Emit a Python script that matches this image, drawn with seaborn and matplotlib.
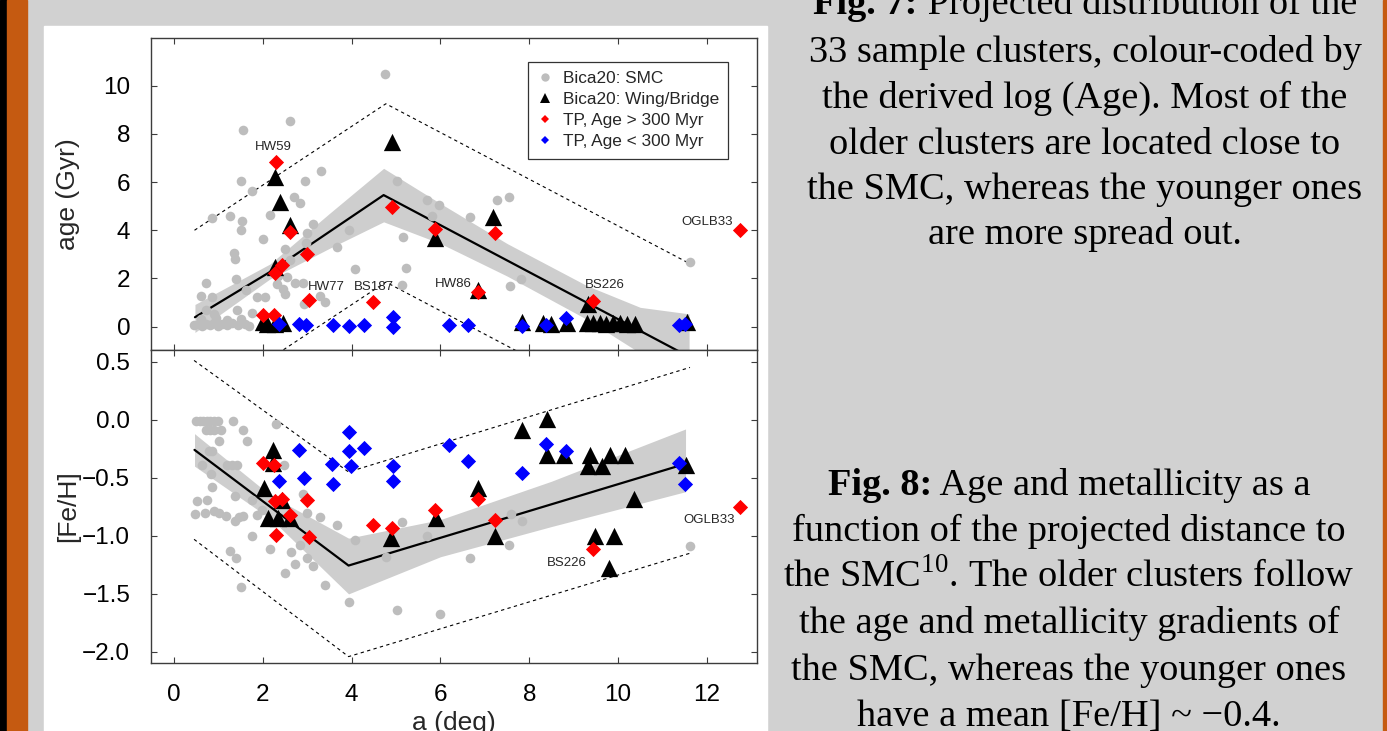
"""
Age and [Fe/H] versus projected distance a (deg) - poster panel recreation.
"""

# =============== IMPORTS ===============
import matplotlib
matplotlib.use("Agg")
import matplotlib.pyplot as plt
from matplotlib.lines import Line2D
from matplotlib.patches import Rectangle
import seaborn as sns


# =============== DATA ===============
# Bica20: SMC clusters (grey circles)
smc_top_a = [4.75, 2.61, 1.55, 3.30, 1.50, 2.94, 1.75, 5.02, 2.71, 2.84, 5.69, 5.97,
             0.86, 1.26, 1.52, 2.15, 1.50, 3.12, 3.00, 3.93, 5.82, 2.00, 2.97, 3.66,
             5.15, 1.35, 1.37, 2.50, 2.61, 4.08, 5.22, 1.40, 0.72, 1.62, 2.54, 2.72,
             2.91, 2.31, 2.46, 5.13, 0.60, 0.85, 1.86, 2.05, 3.29, 1.41, 1.75, 2.93,
             3.40, 0.72, 0.89, 1.19, 2.35, 2.50, 6.67, 7.28, 7.55, 7.82, 7.57, 11.62,
             0.45, 0.55, 0.63, 0.72, 0.80, 0.90, 0.98, 1.08, 1.20, 1.30, 1.45, 1.60,
             1.68, 0.60, 0.95, 1.50]
smc_top_age = [10.50, 8.55, 8.17, 6.47, 6.05, 6.04, 5.63, 6.04, 5.39, 5.14, 5.25, 5.04,
               4.49, 4.58, 4.39, 4.62, 4.00, 4.28, 3.89, 4.00, 4.58, 3.63, 3.49, 3.30,
               3.72, 3.05, 2.80, 3.24, 2.75, 2.40, 2.45, 1.99, 1.82, 1.53, 2.06, 1.82,
               1.82, 1.75, 1.57, 1.71, 1.29, 1.22, 1.25, 1.22, 1.29, 0.69, 0.55, 0.92,
               1.01, 0.67, 0.53, 0.28, 2.12, 1.36, 4.55, 5.25, 5.39, 1.99, 1.67, 2.68,
               0.05, 0.10, 0.02, 0.12, 0.05, 0.15, 0.03, 0.10, 0.05, 0.15, 0.08, 0.10,
               0.02, 0.30, 0.35, 0.30]

smc_bot_a = [0.50, 0.58, 0.66, 0.74, 0.82, 0.90, 0.98, 1.32, 0.72, 0.82, 0.90, 1.06,
             1.56, 1.01, 1.64, 2.30, 0.85, 0.62, 1.19, 1.30, 1.41, 0.83, 0.85, 1.37,
             0.52, 0.74, 0.47, 0.89, 1.02, 1.17, 1.37, 1.47, 1.56, 1.76, 1.98, 2.48,
             2.91, 2.99, 3.29, 3.68, 4.08, 5.14, 5.69, 1.75, 2.16, 1.26, 1.40, 2.64,
             2.84, 2.99, 2.72, 3.12, 2.50, 3.40, 1.50, 4.77, 3.93, 5.02, 5.98, 7.58,
             7.83, 7.55, 6.67, 11.62, 1.87, 0.78, 0.70]
smc_bot_feh = [-0.01, -0.01, -0.01, -0.01, -0.01, -0.01, -0.01, -0.01, -0.09, -0.09, -0.09, -0.09,
               -0.09, -0.18, -0.18, -0.04, -0.27, -0.39, -0.39, -0.39, -0.39, -0.47, -0.58, -0.66,
               -0.70, -0.69, -0.81, -0.79, -0.80, -0.83, -0.87, -0.84, -0.83, -0.69, -0.78, -0.39,
               -0.64, -0.80, -0.84, -0.91, -1.04, -0.88, -1.00, -1.00, -1.11, -1.13, -1.19, -1.14,
               -1.08, -1.19, -1.24, -1.26, -1.32, -1.42, -1.44, -1.18, -1.57, -1.64, -1.67, -0.81,
               -0.87, -1.08, -1.19, -1.09, -0.82, -0.27, -0.80]

# Bica20: Wing/Bridge clusters (black triangles)
wing_top_a = [2.27, 2.39, 2.60, 2.27, 2.01, 2.09, 2.27, 2.46, 4.90, 5.88, 7.19, 6.85, 7.83,
              8.30, 8.50, 8.84, 9.33, 9.29, 9.44, 9.59, 9.74, 9.89, 10.05, 10.20, 10.38, 11.55]
wing_top_age = [6.20, 5.18, 4.20, 2.47, 0.20, 0.10, 0.12, 0.15, 7.68, 3.67, 4.55, 1.50, 0.18,
                0.15, 0.12, 0.15, 0.95, 0.15, 0.15, 0.15, 0.12, 0.15, 0.15, 0.12, 0.12, 0.20]

wing_bot_a = [2.23, 2.23, 2.03, 2.12, 2.35, 2.60, 2.43, 4.89, 5.89, 6.84, 7.22, 7.83, 8.39,
              8.39, 8.79, 9.36, 9.83, 10.15, 9.32, 9.64, 9.47, 9.92, 9.79, 10.36, 11.52]
wing_bot_feh = [-0.26, -0.37, -0.59, -0.85, -0.85, -0.85, -0.69, -1.02, -0.85, -0.59, -1.00, -0.09, 0.01,
                -0.30, -0.30, -0.30, -0.30, -0.30, -0.40, -0.40, -1.00, -1.00, -1.28, -0.68, -0.39]

# TP clusters, Age > 300 Myr (red diamonds)
old_top_a = [2.30, 2.60, 2.99, 2.43, 2.27, 4.90, 5.88, 3.05, 4.47, 2.01, 2.24, 7.23, 6.85, 9.44, 12.75]
old_top_age = [6.82, 3.93, 3.00, 2.54, 2.22, 4.97, 4.07, 1.11, 1.01, 0.50, 0.50, 3.89, 1.43, 1.08, 4.00]

old_bot_a = [2.00, 2.24, 2.27, 2.43, 2.61, 2.99, 2.30, 3.05, 4.47, 4.90, 5.88, 6.85, 7.23, 9.44, 12.75]
old_bot_feh = [-0.37, -0.39, -0.70, -0.68, -0.82, -0.69, -0.99, -1.01, -0.91, -0.93, -0.78, -0.68, -0.86, -1.11, -0.75]

# TP clusters, Age < 300 Myr (blue diamonds)
young_top_a = [2.37, 2.82, 2.97, 3.57, 3.95, 4.28, 4.93, 4.94, 6.20, 6.63, 7.83, 8.38, 8.83, 11.38, 11.51]
young_top_age = [0.10, 0.12, 0.08, 0.08, 0.04, 0.06, 0.38, 0.00, 0.05, 0.05, 0.04, 0.08, 0.36, 0.05, 0.10]

young_bot_a = [2.37, 2.82, 2.93, 3.55, 3.59, 3.93, 3.93, 3.98, 4.28, 4.94, 4.94, 6.20, 6.63,
               7.83, 8.38, 8.83, 11.38, 11.51]
young_bot_feh = [-0.53, -0.26, -0.50, -0.38, -0.55, -0.11, -0.27, -0.40, -0.24, -0.40, -0.53, -0.22, -0.36,
                 -0.46, -0.21, -0.27, -0.37, -0.55]

# piecewise fits, confidence band and dashed envelopes
fit_top_a = [0.47, 2.16, 4.72, 11.60]
fit_top_age = [0.39, 2.27, 5.46, -1.25]
band_top_a = [0.47, 2.16, 3.50, 4.72, 6.00, 7.50, 9.30, 10.50, 11.60]
band_top_hi = [0.92, 2.60, 4.70, 6.57, 5.11, 3.45, 1.70, 0.80, 0.53]
band_top_lo = [-0.24, 1.98, 3.25, 4.35, 3.45, 2.10, 0.30, -1.10, -3.00]
env_top_a = [0.46, 4.77, 11.62]
env_top_hi = [4.00, 9.25, 2.61]
env_top_lo = [-3.40, 1.85, -4.80]

fit_bot_a = [0.46, 2.20, 3.93, 11.52]
fit_bot_feh = [-0.26, -0.76, -1.256, -0.38]
band_bot_a = [0.46, 2.20, 3.93, 6.00, 8.50, 11.52]
band_bot_hi = [-0.12, -0.66, -1.02, -0.86, -0.53, -0.08]
band_bot_lo = [-0.40, -0.86, -1.50, -1.18, -0.92, -0.62]
env_bot_a = [0.45, 3.93, 11.62]
env_bot_hi = [0.51, -0.45, 0.45]
env_bot_lo = [-1.03, -2.04, -1.15]

# cluster name labels: (name, a, value)
names_top = [("HW59", 2.24, 7.45), ("HW77", 3.44, 1.64), ("BS187", 4.49, 1.64),
             ("HW86", 6.29, 1.78), ("BS226", 9.71, 1.72), ("OGLB33", 12.0, 4.35)]
names_bot = [("BS226", 8.84, -1.235), ("OGLB33", 12.06, -0.86)]

legend_labels = ["Bica20: SMC", "Bica20: Wing/Bridge", "TP, Age > 300 Myr", "TP, Age < 300 Myr"]

x_ticks = [0, 2, 4, 6, 8, 10, 12]
age_ticks = [0, 2, 4, 6, 8, 10]
feh_ticks = [0.5, 0.0, -0.5, -1.0, -1.5, -2.0]

# caption lines: (bold lead, regular rest)
fig7_lines = [("Fig. 7:", " Projected distribution of the"),
              ("", "33 sample clusters, colour-coded by"),
              ("", "the derived log (Age). Most of the"),
              ("", "older clusters are located close to"),
              ("", "the SMC, whereas the younger ones"),
              ("", "are more spread out.")]
fig8_lines = [("Fig. 8:", " Age and metallicity as a"),
              ("", "function of the projected distance to"),
              ("", r"the SMC$^{10}$. The older clusters follow"),
              ("", "the age and metallicity gradients of"),
              ("", "the SMC, whereas the younger ones"),
              ("", "have a mean [Fe/H] ~ \u22120.4.")]


# =============== STYLE ===============
sns.set_theme(style="ticks")
plt.rcParams["font.family"] = ["Liberation Sans", "DejaVu Sans"]
plt.rcParams["mathtext.fontset"] = "custom"
plt.rcParams["mathtext.rm"] = "Liberation Serif"
plt.rcParams["mathtext.bf"] = "Liberation Serif:bold"
plt.rcParams["axes.unicode_minus"] = True

GREY_PT = "#bdbdbd"
BAND = "#cecece"
SPINE = "#3c3c3c"
BG = "#d1d1d1"
ORANGE = "#c55a11"

W, H = 1387, 731
fig = plt.figure(figsize=(W / 100, H / 100), dpi=100, facecolor=BG)

# poster frame pieces
fig.add_artist(Rectangle((0, 0), 7 / W, 1, transform=fig.transFigure, color="black", zorder=0))
fig.add_artist(Rectangle((7 / W, 0), 20 / W, 1, transform=fig.transFigure, color=ORANGE, zorder=0))
fig.add_artist(Rectangle((1383 / W, 0), 4 / W, 1, transform=fig.transFigure, color=ORANGE, zorder=0))
fig.add_artist(Rectangle((44 / W, 0), (767 - 44) / W, (H - 26) / H, transform=fig.transFigure,
                         color="white", zorder=0))

ax1 = fig.add_axes([151 / W, 1 - 350 / H, 606 / W, 312 / H])
ax2 = fig.add_axes([151 / W, 1 - 663 / H, 606 / W, 313 / H])


def style_axis(ax):
    ax.set_facecolor("white")
    for sp in ax.spines.values():
        sp.set_visible(True)
        sp.set_color(SPINE)
        sp.set_linewidth(1.0)
    ax.tick_params(direction="in", length=4, width=0.8, color=SPINE,
                   top=True, right=True, labelsize=17.5, pad=15, labelcolor="black")
    ax.set_xlim(-0.52, 13.13)
    ax.set_xticks(x_ticks)


def draw_panel(ax, fa, fy, ba, bhi, blo, ea, ehi, elo, sa, sy, wa, wy, oa, oy, ya, yy, names):
    ax.fill_between(ba, blo, bhi, color=BAND, linewidth=0, zorder=1)
    ax.plot(ea, ehi, color="black", linestyle=(0, (3, 3)), linewidth=0.8, zorder=2)
    ax.plot(ea, elo, color="black", linestyle=(0, (3, 3)), linewidth=0.8, zorder=2)
    ax.plot(fa, fy, color="black", linewidth=1.6, zorder=2)
    sns.scatterplot(x=sa, y=sy, ax=ax, color=GREY_PT, marker="o", s=48, linewidth=0, zorder=3, legend=False)
    sns.scatterplot(x=wa, y=wy, ax=ax, color="black", marker="^", s=155, linewidth=0, zorder=4, legend=False)
    sns.scatterplot(x=oa, y=oy, ax=ax, color="#ff0000", marker="D", s=60, linewidth=0, zorder=5, legend=False)
    sns.scatterplot(x=ya, y=yy, ax=ax, color="#0000ff", marker="D", s=60, linewidth=0, zorder=6, legend=False)
    for name, xa, yv in names:
        ax.text(xa, yv, name, fontsize=9.5, ha="center", va="center", zorder=7)


# =============== TOP PANEL: AGE ===============
style_axis(ax1)
draw_panel(ax1, fit_top_a, fit_top_age, band_top_a, band_top_hi, band_top_lo,
           env_top_a, env_top_hi, env_top_lo, smc_top_a, smc_top_age, wing_top_a, wing_top_age,
           old_top_a, old_top_age, young_top_a, young_top_age, names_top)
ax1.set_ylim(-0.97, 11.98)
ax1.set_yticks(age_ticks)
ax1.set_yticklabels([str(t) for t in age_ticks])
ax1.tick_params(axis="x", labelbottom=False)
ax1.set_xlabel("")
ax1.set_ylabel("age (Gyr)", fontsize=19)
ax1.yaxis.set_label_coords(-0.117, 0.5)

handles = [
    Line2D([], [], linestyle="none", marker="o", color=GREY_PT, markersize=6, markeredgewidth=0),
    Line2D([], [], linestyle="none", marker="^", color="black", markersize=7.5, markeredgewidth=0),
    Line2D([], [], linestyle="none", marker="D", color="#ff0000", markersize=4, markeredgewidth=0),
    Line2D([], [], linestyle="none", marker="D", color="#0000ff", markersize=4, markeredgewidth=0),
]
leg = ax1.legend(handles, legend_labels, loc="upper right", bbox_to_anchor=(0.9526, 0.924),
                 borderaxespad=0, fontsize=12.4, frameon=True, fancybox=False,
                 handlelength=0.9, handletextpad=0.55, labelspacing=0.35, borderpad=0.55)
leg.get_frame().set_edgecolor("black")
leg.get_frame().set_linewidth(0.9)
leg.set_zorder(10)

# =============== BOTTOM PANEL: [Fe/H] ===============
style_axis(ax2)
draw_panel(ax2, fit_bot_a, fit_bot_feh, band_bot_a, band_bot_hi, band_bot_lo,
           env_bot_a, env_bot_hi, env_bot_lo, smc_bot_a, smc_bot_feh, wing_bot_a, wing_bot_feh,
           old_bot_a, old_bot_feh, young_bot_a, young_bot_feh, names_bot)
ax2.set_ylim(-2.095, 0.6)
ax2.set_yticks(feh_ticks)
ax2.set_yticklabels([f"{t:.1f}".replace("-", "\u2212") for t in feh_ticks])
ax2.set_xticklabels([str(t) for t in x_ticks])
ax2.set_ylabel("[Fe/H]", fontsize=19)
ax2.yaxis.set_label_coords(-0.117, 0.5)
ax2.set_xlabel("a (deg)", fontsize=19)
ax2.xaxis.set_label_coords(0.5, -0.153)
ax2.xaxis.label.set_va("top")

# =============== CAPTIONS ===============
serif = ["Liberation Serif", "DejaVu Serif"]
renderer = fig.canvas.get_renderer()


def caption_line(xc, yb, bold, rest, size=27.6):
    # bold lead + regular rest, centred as one line on xc (pixels)
    t_rest = fig.text(0, 1 - yb / H, rest, family=serif, fontsize=size,
                      ha="left", va="baseline", color="black")
    w_rest = t_rest.get_window_extent(renderer).width
    w_bold = 0.0
    t_bold = None
    if bold:
        t_bold = fig.text(0, 1 - yb / H, bold, family=serif, fontsize=size, weight="bold",
                          ha="left", va="baseline", color="black")
        w_bold = t_bold.get_window_extent(renderer).width
    x0 = xc - (w_bold + w_rest) / 2
    if t_bold is not None:
        t_bold.set_x(x0 / W)
    t_rest.set_x((x0 + w_bold) / W)


fig7_base = [14, 62, 108, 154, 199, 244]
fig8_base = [495, 541, 587, 633, 680, 726]
for (b, r), yb in zip(fig7_lines, fig7_base):
    caption_line(1085, yb, b, r)
for (b, r), yb in zip(fig8_lines, fig8_base):
    caption_line(1069, yb, b, r)

fig.savefig("out.png", dpi=100, facecolor=BG)
plt.close(fig)
print("Saved out.png")
